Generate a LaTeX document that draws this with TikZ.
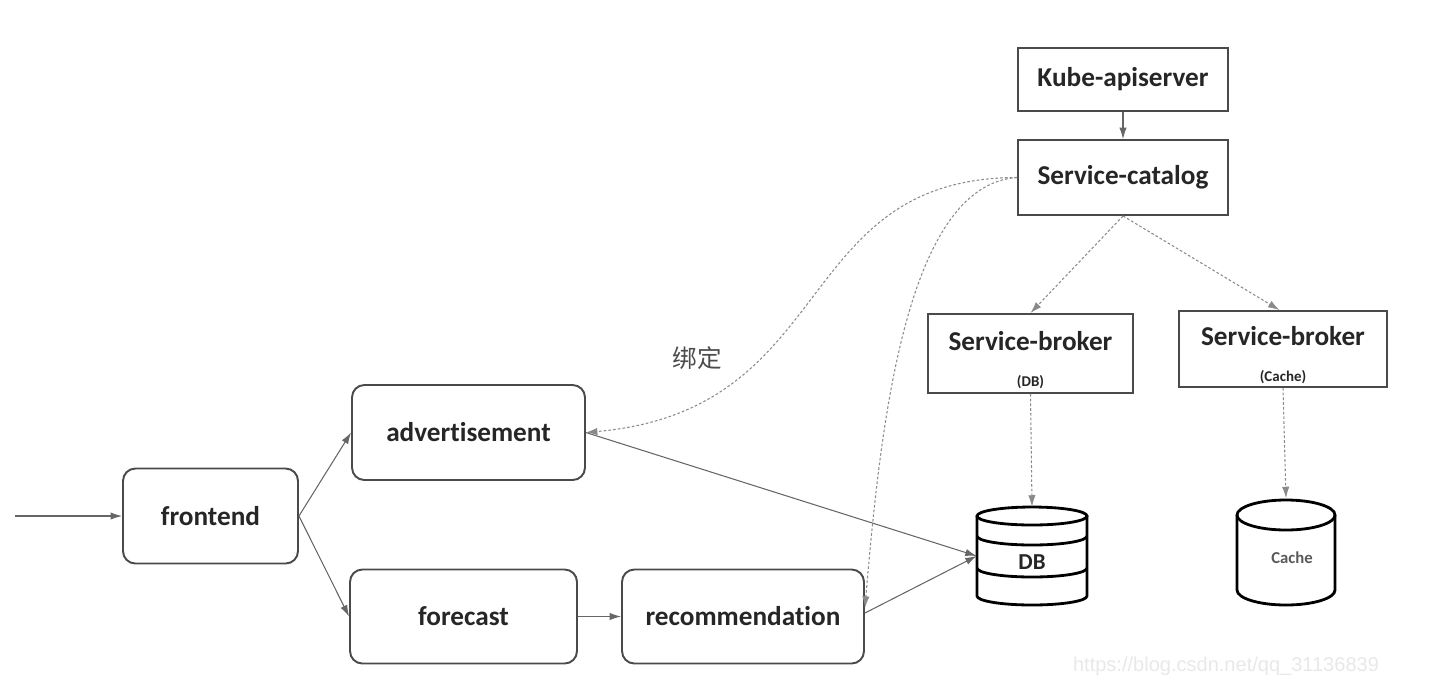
\documentclass[tikz,border=0pt]{standalone}
\usepackage{fontspec}
\setmainfont{Carlito}[Ligatures=NoCommon]
\newfontfamily\cjk{Noto Sans CJK SC}
\newfontfamily\urlfont{Liberation Sans}
\usetikzlibrary{arrows.meta}
\definecolor{boxline}{HTML}{4A4A4A}
\definecolor{linkgray}{HTML}{666666}
\definecolor{bindgray}{HTML}{8A8A8A}
\begin{document}
\begin{tikzpicture}[x=0.02cm,y=-0.02cm,
    box/.style={draw=boxline,line width=1.1pt,fill=white,inner sep=0pt,
      font=\bfseries\fontsize{15.5}{18}\selectfont,text=black!85},
    svc/.style={box,rounded corners=7pt},
    cyl/.style={draw=black,line width=1.6pt},
    link/.style={draw=linkgray,line width=0.6pt,-{Latex[length=6.5pt,width=4.2pt]}},
    bind/.style={link,draw=bindgray,dash pattern=on 1.5pt off 1.2pt}]
  \useasboundingbox (0,0) rectangle (1454,698);

  \node[box,minimum width=4.2cm,minimum height=1.26cm] (kube) at (1123,79.5) {Kube-apiserver};
  \node[box,minimum width=4.2cm,minimum height=1.5cm] (catalog) at (1123,177.5) {Service-catalog};
  \node[box,minimum width=4.1cm,minimum height=1.58cm,align=center] (brokerdb) at (1030.5,353.5)
    {\rule{0pt}{18pt}Service-broker\\[2.5pt]{\fontsize{8.5}{9}\selectfont (DB)}};
  \node[box,minimum width=4.16cm,minimum height=1.52cm,align=center] (brokercache) at (1283,349)
    {\rule{0pt}{18pt}Service-broker\\[2.5pt]{\fontsize{8.5}{9}\selectfont (Cache)}};

  \node[svc,minimum width=3.5cm,minimum height=1.9cm] (frontend) at (210.5,516) {frontend};
  \node[svc,minimum width=4.66cm,minimum height=1.9cm] (ad) at (468.5,432.5) {advertisement};
  \node[svc,minimum width=4.54cm,minimum height=1.88cm] (forecast) at (463.5,616.5) {forecast};
  \node[svc,minimum width=4.84cm,minimum height=1.88cm] (rec) at (743,616.5) {recommendation};

  \node[minimum width=2.2cm,minimum height=1.96cm,inner sep=0pt] (db) at (1032,556) {};
  \draw[cyl] (1032,516) ellipse (55 and 9);
  \draw[cyl] (977,516) -- (977,596) arc[start angle=180,end angle=0,x radius=55,y radius=9] -- (1087,516);
  \draw[cyl] (977,536) arc[start angle=180,end angle=0,x radius=55,y radius=9];
  \draw[cyl] (977,568) arc[start angle=180,end angle=0,x radius=55,y radius=9];
  \node[font=\bfseries\fontsize{13}{15}\selectfont,text=black!85] (dblabel) at (1032,562) {DB};

  \node[minimum width=1.96cm,minimum height=2.14cm,inner sep=0pt] (cache) at (1286,552) {};
  \draw[cyl] (1286,515) ellipse (49 and 15);
  \draw[cyl] (1237,515) -- (1237,590) arc[start angle=180,end angle=0,x radius=49,y radius=15] -- (1335,515);
  \node[font=\bfseries\fontsize{9.5}{11}\selectfont,text=black!65] (cachelabel) at (1292,558) {Cache};

  \coordinate (entry) at (15,516);
  \draw[link] (entry) -- (frontend.west);
  \draw[link] (frontend.east) -- (ad.west);
  \draw[link] (frontend.east) -- (forecast.west);
  \draw[link] (forecast.east) -- (rec.west);
  \draw[link] (ad.east) -- (db.west);
  \draw[link] ([yshift=2pt]rec.east) -- (db.west);
  \draw[link] (kube.south) -- (catalog.north);

  \draw[bind] (catalog.south) -- (brokerdb.north);
  \draw[bind] (catalog.south) -- ([xshift=-2pt]brokercache.north);
  \draw[bind] (brokerdb.south) -- (db.north);
  \draw[bind] (brokercache.south) -- (cache.north);
  \draw[bind] (catalog.west) .. controls (790,178) and (840,410) .. (ad.east);
  \draw[bind] (catalog.west) .. controls (905,185) and (880,430) .. ([yshift=5pt]rec.east);

  \node[text=black!70,font=\cjk\fontsize{14}{16}\selectfont] (bindlabel) at (697,358) {绑定};
  \node[text=black!9,font=\urlfont\fontsize{11.4}{13}\selectfont] (wm) at (1226,666) {https://blog.csdn.net/qq\_31136839};
\end{tikzpicture}
\end{document}
